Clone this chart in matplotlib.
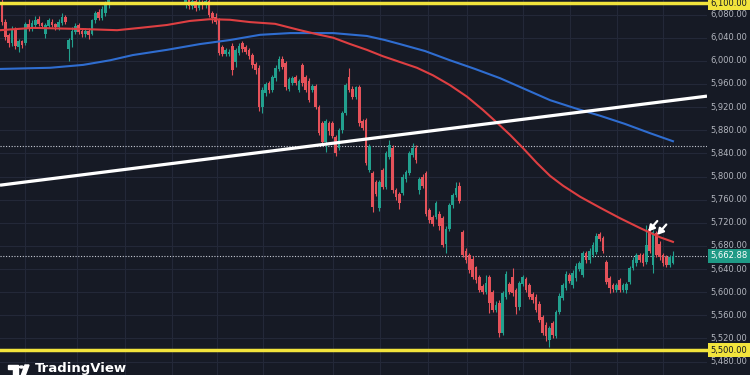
import matplotlib.pyplot as plt
import matplotlib.patches as mpatches
import numpy as np

# candles (price), left to right
opens = [6102, 6068, 6044, 6030, 6054, 6024, 6034, 6030, 6064, 6056, 6062, 6072, 6066, 6046, 6060, 6068, 6064, 6058, 6066, 6076,
         6020, 6036, 6050, 6062, 6052, 6046, 6052, 6046, 6070, 6084, 6074, 6082, 6096,
         6112, 6120, 6128, 6124, 6136, 6142, 6134, 6146, 6150, 6140, 6148, 6156, 6146, 6138, 6144, 6132, 6126, 6134, 6124, 6118, 6122, 6114,
         6098, 6106, 6094, 6104, 6092, 6102, 6096, 6104, 6082, 6076, 6070, 6024, 6012, 6012, 6026, 5998, 6014, 6030, 6024, 6018, 6010, 5994, 5988,
         5920, 5944, 5962, 5950, 5970, 5986, 6004, 5996, 5952, 5962, 5972, 5950, 5992, 5972, 5966, 5950, 5956, 5920, 5892, 5860, 5892, 5892,
         5868, 5850, 5880, 5910, 5972, 5952, 5938, 5954, 5896, 5898, 5812, 5806, 5790, 5746, 5811, 5782, 5834, 5850, 5776, 5770,
         5772, 5796, 5806, 5838, 5850, 5776, 5800, 5806, 5742, 5730, 5730, 5736, 5728, 5684, 5710, 5750, 5768, 5784,
         5704, 5672, 5664, 5658, 5643, 5626, 5610, 5600, 5626, 5600, 5570, 5582, 5530, 5592, 5614, 5626, 5604, 5574, 5614, 5622, 5612, 5596,
         5592, 5580, 5557, 5544, 5518, 5546, 5524, 5566, 5590, 5608, 5630, 5612, 5624, 5640, 5630, 5668, 5655, 5665, 5670, 5700, 5694,
         5652, 5624, 5612, 5604, 5621, 5604, 5604, 5618, 5642, 5650, 5664, 5664, 5652, 5710, 5647, 5702, 5684, 5664, 5660, 5647, 5651]
closes = [6068, 6042, 6030, 6054, 6026, 6034, 6028, 6064, 6056, 6066, 6070, 6064, 6060, 6062, 6070, 6062, 6058, 6068, 6076, 6068,
          6036, 6052, 6060, 6050, 6046, 6052, 6044, 6070, 6082, 6074, 6090, 6098, 6112,
          6120, 6128, 6124, 6136, 6142, 6134, 6146, 6150, 6140, 6148, 6156, 6146, 6138, 6144, 6132, 6126, 6134, 6124, 6118, 6122, 6114, 6118,
          6106, 6094, 6104, 6092, 6102, 6096, 6104, 6080, 6074, 6068, 6014, 6012, 6018, 6016, 5984, 6018, 6026, 6020, 6016, 6008, 5992, 5984, 5920,
          5950, 5960, 5950, 5972, 5988, 6004, 5990, 5954, 5968, 5970, 5962, 5966, 5962, 5950, 5932, 5956, 5920, 5876, 5860, 5896, 5878, 5870,
          5840, 5880, 5910, 5958, 5950, 5938, 5954, 5892, 5884, 5824, 5852, 5748, 5770, 5790, 5782, 5840, 5854, 5776, 5764, 5754,
          5800, 5808, 5840, 5850, 5828, 5796, 5784, 5736, 5725, 5718, 5754, 5714, 5682, 5710, 5750, 5768, 5780, 5758,
          5664, 5655, 5638, 5626, 5621, 5604, 5600, 5616, 5582, 5570, 5578, 5530, 5598, 5632, 5600, 5598, 5574, 5616, 5626, 5604, 5592, 5586,
          5570, 5552, 5530, 5524, 5538, 5526, 5566, 5594, 5612, 5632, 5620, 5634, 5646, 5650, 5668, 5655, 5672, 5682, 5698, 5692, 5672,
          5618, 5607, 5606, 5612, 5604, 5612, 5614, 5642, 5655, 5664, 5656, 5650, 5681, 5672, 5704, 5664, 5660, 5650, 5647, 5660, 5662.88]
highs = [6108, 6072, 6048, 6060, 6058, 6038, 6036, 6068, 6072, 6070, 6078, 6078, 6068, 6066, 6074, 6072, 6066, 6072, 6082, 6080,
         6040, 6058, 6066, 6066, 6056, 6056, 6056, 6072, 6086, 6090, 6094, 6104, 6118,
         6126, 6134, 6132, 6140, 6148, 6146, 6152, 6156, 6154, 6152, 6162, 6160, 6150, 6148, 6146, 6136, 6138, 6138, 6128, 6126, 6126, 6122,
         6112, 6110, 6110, 6108, 6108, 6106, 6110, 6108, 6086, 6082, 6074, 6028, 6022, 6020, 6030, 6022, 6030, 6034, 6028, 6022, 6014, 5998, 5992,
         5954, 5964, 5966, 5976, 5992, 6008, 6008, 6000, 5972, 5974, 5976, 5968, 5996, 5976, 5970, 5960, 5960, 5924, 5896, 5900, 5896, 5896,
         5872, 5884, 5914, 5962, 5988, 5956, 5956, 5958, 5900, 5902, 5856, 5810, 5794, 5794, 5815, 5844, 5863, 5854, 5780, 5774,
         5804, 5812, 5844, 5858, 5854, 5800, 5804, 5810, 5746, 5734, 5758, 5740, 5732, 5714, 5754, 5772, 5790, 5790,
         5708, 5676, 5668, 5662, 5646, 5630, 5614, 5630, 5630, 5604, 5584, 5586, 5602, 5636, 5618, 5642, 5608, 5620, 5630, 5626, 5616, 5600,
         5596, 5584, 5560, 5548, 5542, 5550, 5570, 5598, 5616, 5636, 5634, 5638, 5650, 5654, 5672, 5672, 5676, 5686, 5702, 5704, 5698,
         5656, 5628, 5616, 5616, 5624, 5616, 5618, 5646, 5660, 5668, 5668, 5668, 5716, 5714, 5708, 5706, 5688, 5668, 5664, 5664, 5671]
lows = [6062, 6036, 6024, 6026, 6020, 6016, 6022, 6028, 6052, 6052, 6058, 6060, 6056, 6040, 6056, 6058, 6054, 6054, 6062, 6064,
        5999, 6024, 6046, 6046, 6042, 6042, 6038, 6044, 6066, 6070, 6070, 6078, 6092,
        6108, 6116, 6118, 6120, 6130, 6128, 6130, 6140, 6136, 6134, 6144, 6140, 6132, 6132, 6126, 6120, 6122, 6118, 6114, 6112, 6110, 6110,
        6092, 6090, 6090, 6086, 6088, 6090, 6092, 6076, 6066, 6064, 6010, 6008, 6008, 6008, 5976, 5990, 6010, 6016, 6012, 6004, 5988, 5978, 5914,
        5910, 5940, 5944, 5946, 5966, 5982, 5986, 5950, 5948, 5958, 5958, 5946, 5956, 5946, 5928, 5946, 5916, 5872, 5856, 5842, 5872, 5866,
        5836, 5846, 5876, 5906, 5946, 5934, 5934, 5888, 5880, 5820, 5808, 5738, 5766, 5740, 5778, 5778, 5830, 5772, 5760, 5744,
        5768, 5790, 5802, 5834, 5824, 5770, 5780, 5732, 5720, 5714, 5726, 5708, 5678, 5668, 5706, 5746, 5764, 5754,
        5660, 5650, 5634, 5622, 5616, 5600, 5596, 5596, 5564, 5566, 5566, 5522, 5526, 5588, 5596, 5594, 5562, 5570, 5610, 5600, 5588, 5582,
        5566, 5548, 5526, 5516, 5505, 5520, 5520, 5562, 5586, 5604, 5616, 5608, 5620, 5636, 5626, 5650, 5650, 5660, 5666, 5688, 5668,
        5614, 5598, 5600, 5600, 5600, 5600, 5598, 5614, 5638, 5646, 5652, 5646, 5648, 5668, 5633, 5660, 5656, 5646, 5644, 5644, 5648]

# moving averages read at bars along the chart
ma_red_idx = [-0.6, 9.3, 24.3, 34.5, 41.3, 49.4, 56.3, 62.3, 68.3, 74.3, 81.8, 89.3, 94.4, 99.2, 104.3, 109.3, 114.1,
              119.2, 124.3, 129.1, 134.2, 139.3, 144.1, 148.3, 152.2, 156.1, 160.3, 164.2, 168.1, 173.2, 179.2,
              185.1, 191.1, 197.1, 201]
ma_red = [6053, 6057, 6055, 6053, 6057, 6062, 6069, 6072, 6071, 6067, 6064, 6053, 6046, 6040, 6029, 6019, 6008,
          5998, 5988, 5975, 5958, 5938, 5915, 5893, 5872, 5849, 5823, 5801, 5784, 5765, 5746,
          5728, 5711, 5695, 5687]
ma_blue_idx = [-0.6, 14.4, 24.3, 32.4, 39.2, 49.4, 59.3, 68.3, 77.3, 86.3, 99.2, 109.3, 114.7, 119.2, 126.7, 134.2,
               141.7, 149.2, 156.7, 164.2, 171.7, 179.2, 186.6, 194.1, 201]
ma_blue = [5986, 5988, 5993, 6001, 6010, 6019, 6029, 6036, 6045, 6048, 6048, 6043, 6036, 6029, 6017, 6001,
           5986, 5970, 5951, 5932, 5918, 5905, 5891, 5875, 5861]

trend_idx = [-0.6, 211.2]
trend_px = [5785, 5939]

levels_yellow = [6100, 5500]
level_dotted = 5852
last_price = 5662.88
arrow_idx = [193.6, 196.3]
arrow_px = [5705, 5699]

grid_idx = [6.9, 22.5, 36.8, 50.9, 64.4, 78.2, 99.2, 113.2, 127.6, 139.3, 156.1, 170.2, 184.2, 198.0]
tick_vals = list(range(5480, 6081, 40))

BG = '#161a25'
UP = '#22a08e'
DN = '#e5525a'
YEL = '#f2e43c'

fig = plt.figure(figsize=(7.5, 3.75), dpi=100, facecolor=BG)
ax = fig.add_axes([0, 0, 707 / 750, 1])
ax.set_facecolor(BG)
ax.set_xlim(-0.6, 211.2)
ax.set_ylim(5456.8, 6105.2)
for s in ax.spines.values():
    s.set_visible(False)
ax.set_xticks([])
ax.set_yticks([])

# grid
for g in grid_idx:
    ax.axvline(g, color='#232838', lw=0.8, zorder=0)
for t in tick_vals:
    ax.axhline(t, color='#232838', lw=0.8, zorder=0)

# candles
x = np.arange(len(closes))
o = np.array(opens, float)
c = np.array(closes, float)
h = np.array(highs, float)
l = np.array(lows, float)
cols = np.where(c >= o, UP, DN)
ax.vlines(x, l, h, colors=cols, lw=0.8, zorder=2)
body = np.maximum(np.abs(c - o), 1.5)
ax.bar(x, body, bottom=np.minimum(o, c), width=0.8, color=cols, zorder=3, linewidth=0)

# moving averages and trendline
ax.plot(ma_blue_idx, ma_blue, color='#2f6dd0', lw=1.5, zorder=4)
ax.plot(ma_red_idx, ma_red, color='#de3f42', lw=1.5, zorder=4)
ax.plot(trend_idx, trend_px, color='white', lw=2.3, zorder=5, solid_capstyle='butt')

# horizontal levels
yt = ax.get_yaxis_transform()
for lv in levels_yellow:
    ax.plot([0, 750 / 707], [lv, lv], color=YEL, lw=2.5, transform=yt, clip_on=False, zorder=6)
ax.plot([0, 1], [level_dotted, level_dotted], color='#c8ccd6', lw=0.8, ls=(0, (1, 1.5)), transform=yt, zorder=1)
ax.plot([0, 1], [last_price, last_price], color='#c8ccd6', lw=0.8, ls=(0, (1, 1.5)), transform=yt, zorder=1)

# arrows pointing at the rejection candles
for ai, ap in zip(arrow_idx, arrow_px):
    ax.annotate('', xy=(ai, ap), xytext=(6.5, 7.5), textcoords='offset points',
                arrowprops=dict(arrowstyle='-|>,head_length=0.35,head_width=0.2', color='white', lw=1.6,
                                shrinkA=0, shrinkB=0), zorder=7)

# price scale
lx = 729 / 707
for t in tick_vals:
    ax.text(lx, t, f'{t:,.2f}', transform=yt, ha='center', va='center', fontsize=6,
            color='#b2b5be', clip_on=False)
for lv in levels_yellow:
    ax.text(lx, lv, f'{lv:,.2f}', transform=yt, ha='center', va='center', fontsize=6, color='#131722',
            clip_on=False, zorder=8, bbox=dict(boxstyle='square,pad=0.3', fc=YEL, ec='none'))
ax.text(lx, last_price, f'{last_price:,.2f}', transform=yt, ha='center', va='center', fontsize=6,
        color='white', clip_on=False, zorder=8, bbox=dict(boxstyle='square,pad=0.3', fc='#1f9a86', ec='none'))

# TradingView logo
def px(xp, yp):
    return (xp / 750, 1 - yp / 375)

fig.add_artist(mpatches.Rectangle(px(8, 369), 10 / 750, 4 / 375, transform=fig.transFigure, color='white'))
fig.add_artist(mpatches.Rectangle(px(13, 376), 5 / 750, 7 / 375, transform=fig.transFigure, color='white'))
fig.add_artist(mpatches.Circle(px(21.5, 367), 2 / 750, transform=fig.transFigure, color='white'))
fig.add_artist(mpatches.Polygon([px(21, 376), px(25, 365), px(29, 365), px(25, 376)], closed=True,
                                transform=fig.transFigure, color='white'))
fig.text(35 / 750, 1 - 362 / 375, 'TradingView', color='white', fontsize=9.5, fontweight='bold',
         ha='left', va='top')

fig.savefig('out.png', dpi=100, facecolor=BG)
